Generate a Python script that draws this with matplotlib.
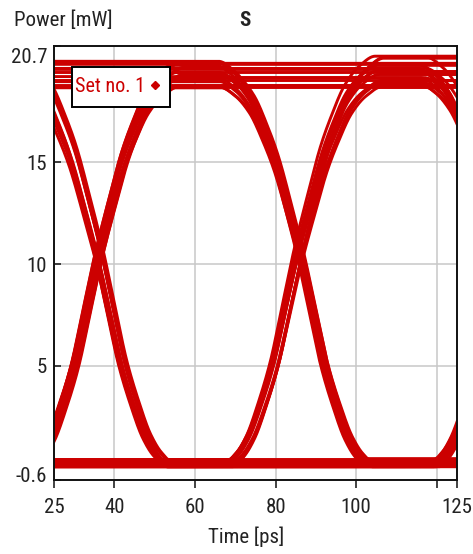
import numpy as np
import matplotlib.pyplot as plt
from matplotlib.patches import Rectangle
from matplotlib import font_manager
import matplotlib.transforms as mtransforms

# Prefer a narrow sans face if one is available
installed = {f.name for f in font_manager.fontManager.ttflist}
narrow = [n for n in ['Liberation Sans Narrow', 'Arial Narrow', 'Roboto Condensed',
                      'Open Sans Condensed', 'DejaVu Sans Condensed'] if n in installed]
if narrow:
    plt.rcParams['font.family'] = [narrow[0], 'DejaVu Sans']
    FS = 15
else:
    plt.rcParams['font.family'] = ['Liberation Sans', 'DejaVu Sans']
    FS = 12.5

RED = '#cc0000'
INK = '#222222'

# Normalised rising-edge profile around the crossing point (ps, 0..1)
edge_tau = [-20.0, -17.0, -14.7, -12.0, -9.0, -6.0, -3.0, 0.0, 3.0, 6.5, 9.0, 12.5, 16.0, 20.0]
edge_level = [0.0, 0.0, 0.02, 0.065, 0.148, 0.25, 0.39, 0.53, 0.65, 0.78, 0.85, 0.93, 0.975, 1.0]

# Bit boundaries (crossing times), ps
crossing_times = [35.9, 85.9, 136.3]

power_low = 0.15   # mW, "0" level
power_high = 19.4  # mW, "1" level

series_name = 'Set no. 1'

# Bit sequences: bit before 35.9 ps, 35.9-85.9, 85.9-136.3, after 136.3
bit_patterns = [
    "0000", "0001", "0010", "0011", "0100", "0101", "0110", "0111",
    "1000", "1001", "1010", "1011", "1100", "1101", "1110", "1111",
    "0000", "0001", "0010", "0011", "0100", "0101", "0110", "0111",
    "1000", "1001", "1010", "1011", "1100", "1101", "1110", "1111",
    "0110", "1001", "0101", "1010", "0011", "1100", "0111", "1000",
    "0100", "1011", "0010", "1101", "0001", "1110", "0000", "1111",
]
timing_jitter = [-1.1, 0.4, -0.3, 0.9, 0.1, -0.7, 0.6, -0.1, 0.3, -0.9, 1.1, -0.4, 0.0, 0.5, -0.8, 0.2,
                 0.8, -0.2, 0.4, -1.0, -0.5, 0.1, 1.0, -0.3, 0.6, 0.0, -0.6, 0.3, -0.1, 0.9, -1.1, 0.5,
                 -0.5, 0.7, 1.2, -0.6, -1.2, 0.2, -0.4, 0.8, 1.1, -0.9, 0.5, -0.2, 0.3, -1.0, 0.0, 0.6]
high_offset = [0.6, -0.45, 0.1, 0.7, -0.7, 0.35, -0.25, 0.45, -0.6, 0.25, 0.75, -0.1, 0.0, -0.75, 0.4, -0.35,
               0.3, 0.65, -0.5, 0.05, 0.5, -0.3, 0.2, -0.65, 0.7, -0.05, 0.35, -0.4, 0.55, -0.2, 0.15, -0.7,
               -0.25, 0.45, 0.25, -0.55, 0.8, -0.45, 0.0, 0.6, -0.1, 0.35, -0.7, 0.5, -0.35, 0.2, 0.75, -0.6]
low_offset = [0.1, -0.1, 0.25, 0.0, 0.2, -0.05, 0.15, 0.3, -0.1, 0.05, 0.2, 0.1, -0.05, 0.25, 0.0, 0.15,
              0.3, -0.1, 0.1, 0.2, 0.05, -0.05, 0.25, 0.15, 0.0, 0.1, 0.2, -0.1, 0.3, 0.05, 0.15, 0.0,
              0.05, 0.2, -0.1, 0.25, 0.1, 0.0, 0.3, -0.05, 0.15, 0.2, 0.05, 0.25, -0.1, 0.1, 0.2, 0.0]

x_ticks = [25, 40, 60, 80, 100, 120, 125]
x_tick_labels = ['25', '40', '60', '80', '100', '', '125']
y_ticks = [-0.6, 5, 10, 15, 20.7]
y_tick_labels = ['-0.6', '5', '10', '15', '20.7']


def smooth_profile(xq, xs, ys):
    """Monotone cubic (Fritsch-Carlson) curve through the tabulated edge points."""
    xs = np.asarray(xs, float)
    ys = np.asarray(ys, float)
    h = np.diff(xs)
    delta = np.diff(ys) / h
    d = np.zeros_like(ys)
    for k in range(1, len(xs) - 1):
        if delta[k - 1] * delta[k] > 0:
            w1 = 2 * h[k] + h[k - 1]
            w2 = h[k] + 2 * h[k - 1]
            d[k] = (w1 + w2) / (w1 / delta[k - 1] + w2 / delta[k])
    xq = np.clip(xq, xs[0], xs[-1])
    i = np.clip(np.searchsorted(xs, xq) - 1, 0, len(xs) - 2)
    s = (xq - xs[i]) / h[i]
    h00 = 2 * s**3 - 3 * s**2 + 1
    h10 = s**3 - 2 * s**2 + s
    h01 = -2 * s**3 + 3 * s**2
    h11 = s**3 - s**2
    return h00 * ys[i] + h10 * h[i] * d[i] + h01 * ys[i + 1] + h11 * h[i] * d[i + 1]


def rise(tau):
    return smooth_profile(tau, edge_tau, edge_level)


def trace(bits, shift, off_hi, off_lo, t):
    b = [int(c) for c in bits]
    v = np.full_like(t, float(b[0]))
    for k, tc in enumerate(crossing_times):
        tau = t - (tc + shift)
        if b[k + 1] > b[k]:
            v += rise(tau)
        elif b[k + 1] < b[k]:
            v -= 1.0 - rise(-tau)
    return power_low + (power_high - power_low) * v + off_hi * v + off_lo * (1 - v)


fig = plt.figure(figsize=(4.73, 5.54), dpi=100)
ax = fig.add_axes([54 / 473, 1 - 480 / 554, 403 / 473, 434 / 554])

t = np.linspace(25, 125, 1001)
for bits, sh, oh, ol in zip(bit_patterns, timing_jitter, high_offset, low_offset):
    ax.plot(t, trace(bits, sh, oh, ol, t), color=RED, lw=2.1)

ax.set_xlim(25, 125)
ax.set_ylim(-0.6, 20.7)
ax.set_xticks(x_ticks)
ax.set_xticklabels(x_tick_labels)
ax.set_yticks(y_ticks)
ax.set_yticklabels(y_tick_labels)

ax.grid(True, color='#c8c8c8', lw=1.1)
ax.set_axisbelow(True)
ax.tick_params(axis='x', direction='out', length=6, width=1.2, labelsize=FS, pad=7, colors=INK)
ax.tick_params(axis='y', direction='in', length=5, width=1.2, labelsize=FS, pad=5, colors=INK)
for s in ax.spines.values():
    s.set_color('#111111')
    s.set_linewidth(1.4)

# nudge the end labels of the power axis inward
ylabels = ax.get_yticklabels()
ylabels[-1].set_transform(ylabels[-1].get_transform() +
                          mtransforms.ScaledTranslation(0, -9 / 100, fig.dpi_scale_trans))
ylabels[0].set_transform(ylabels[0].get_transform() +
                         mtransforms.ScaledTranslation(0, 5 / 100, fig.dpi_scale_trans))

# series key box in the upper-left corner of the plot area
ax.add_patch(Rectangle((0.044, 0.860), 0.244, 0.092, transform=ax.transAxes,
                       facecolor='white', edgecolor='black', lw=1.4, zorder=5, clip_on=False))
ax.text(0.053, 0.907, series_name, transform=ax.transAxes, color=RED, fontsize=FS - 0.5,
        va='center', ha='left', zorder=6)
ax.plot([0.251], [0.909], transform=ax.transAxes, marker='D', markersize=4.5, color=RED,
        linestyle='none', zorder=6, clip_on=False)

fig.text(14 / 473, 1 - 20 / 554, 'Power [mW]', fontsize=FS, va='center', ha='left', color=INK)
fig.text(245 / 473, 1 - 21 / 554, 'S', fontsize=FS, fontweight='bold', va='center', ha='center', color=INK)
fig.text(246 / 473, 1 - 537 / 554, 'Time [ps]', fontsize=FS, va='center', ha='center', color=INK)

fig.savefig('out.png', dpi=100)
